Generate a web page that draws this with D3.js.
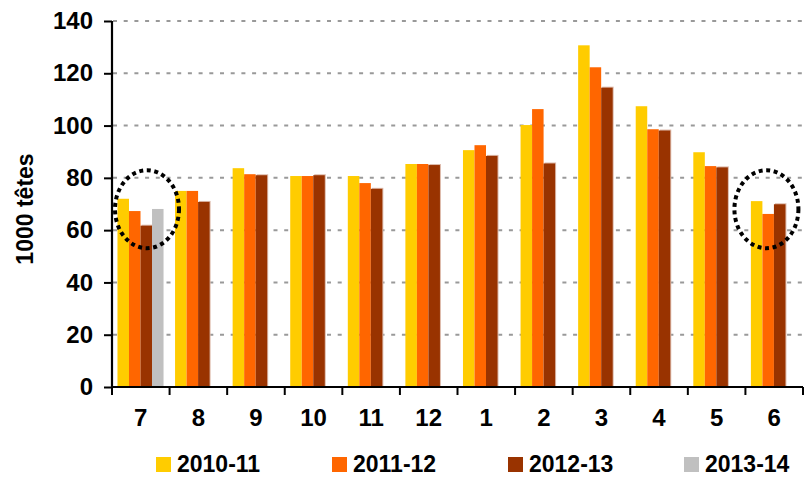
<!DOCTYPE html>
<meta charset="utf-8">
<script src="https://d3js.org/d3.v7.min.js"></script>
<style>
  body { margin: 0; background: #fff; }
  text { font-family: "Liberation Sans", Arial, sans-serif; font-weight: bold; }
</style>
<div id="chart"></div>
<script>
// months (July -> June)
var months = ["7","8","9","10","11","12","1","2","3","4","5","6"];
var seasons = ["2010-11","2011-12","2012-13","2013-14"];
var colors = ["#ffcc00","#ff6600","#993300","#c0c0c0"];

// values in 1000 heads
var v2010 = [72, 75, 83.7, 80.7, 80.7, 85.3, 90.6, 100.2, 130.7, 107.4, 89.8, 71.1];
var v2011 = [67.3, 75, 81.4, 80.7, 78, 85.3, 92.5, 106.3, 122.3, 98.6, 84.5, 66.2];
var v2012 = [61.7, 70.8, 81, 81, 75.8, 84.9, 88.4, 85.5, 114.5, 98.1, 84, 69.9];
var v2013 = [68.1, null, null, null, null, null, null, null, null, null, null, null];
var yTicks = [0, 20, 40, 60, 80, 100, 120, 140];
// months that get a dotted circle
var circled = ["7", "6"];

var allValues = [v2010, v2011, v2012, v2013];

var width = 809, height = 477;
var svg = d3.select("#chart").append("svg")
  .attr("width", width).attr("height", height);

var x = d3.scaleBand().domain(months).range([112, 803]);
var x1 = d3.scaleBand().domain(seasons)
  .range([x.bandwidth() * 0.095, x.bandwidth() * 0.895]);
var y = d3.scaleLinear().domain([0, 140]).range([387, 21]);

// grid lines
svg.append("g").selectAll("line")
  .data(yTicks.filter(function(d){ return d > 0; }))
  .enter().append("line")
    .attr("x1", 113).attr("x2", 803)
    .attr("y1", function(d){ return y(d); })
    .attr("y2", function(d){ return y(d); })
    .attr("stroke", "#999")
    .attr("stroke-width", 2)
    .attr("stroke-dasharray", "4,6.7");

// bars
var data = [];
months.forEach(function(m, i) {
  seasons.forEach(function(s, j) {
    var val = allValues[j][i];
    if (val != null) data.push({month: m, season: s, value: val, color: colors[j]});
  });
});

// faint shadow on the dark bars
svg.append("g").selectAll("rect")
  .data(data.filter(function(d){ return d.season == "2012-13"; }))
  .enter().append("rect")
    .attr("x", function(d){ return x(d.month) + x1(d.season) + 1; })
    .attr("y", function(d){ return y(d.value) - 1; })
    .attr("width", x1.bandwidth())
    .attr("height", function(d){ return y(0) - y(d.value) + 1; })
    .attr("fill", "#dcb8a8");

svg.append("g").selectAll("rect")
  .data(data)
  .enter().append("rect")
    .attr("x", function(d){ return x(d.month) + x1(d.season); })
    .attr("y", function(d){ return y(d.value); })
    .attr("width", x1.bandwidth())
    .attr("height", function(d){ return y(0) - y(d.value); })
    .attr("fill", function(d){ return d.color; });

// y axis
var yAxis = svg.append("g")
  .attr("transform", "translate(112,0)")
  .call(d3.axisLeft(y).tickValues(yTicks).tickSize(8).tickPadding(11));
yAxis.select(".domain").attr("stroke", "#000").attr("stroke-width", 2.2)
  .attr("d", "M0," + y(0) + "V" + y(140));
yAxis.selectAll(".tick line").attr("stroke", "#000").attr("stroke-width", 2);
yAxis.selectAll(".tick text").style("font-size", "24px").attr("fill", "#000");

// x axis
var xAxis = svg.append("g")
  .attr("transform", "translate(0," + y(0) + ")")
  .call(d3.axisBottom(x).tickSize(0).tickPadding(22));
xAxis.select(".domain").attr("stroke", "#000").attr("stroke-width", 2.2)
  .attr("d", "M112,0H803");
xAxis.selectAll(".tick text").style("font-size", "24px").attr("fill", "#000");
// ticks between categories
xAxis.selectAll(".sep")
  .data(months.concat(["end"]))
  .enter().append("line")
    .attr("x1", function(d, i){ return i < months.length ? x(d) : x.range()[1]; })
    .attr("x2", function(d, i){ return i < months.length ? x(d) : x.range()[1]; })
    .attr("y1", 0).attr("y2", 8)
    .attr("stroke", "#000").attr("stroke-width", 2);

// y title
svg.append("text")
  .attr("transform", "translate(33,209) rotate(-90)")
  .attr("text-anchor", "middle")
  .style("font-size", "23px")
  .text("1000 têtes");

// dotted circles
svg.append("g").selectAll("ellipse")
  .data(circled)
  .enter().append("ellipse")
    .attr("cx", function(d){ return d == "7" ? x(d) + 35 : x(d) + 21; })
    .attr("cy", y(68))
    .attr("rx", 32).attr("ry", 39)
    .attr("fill", "none")
    .attr("stroke", "#000")
    .attr("stroke-width", 4)
    .attr("stroke-dasharray", "4,3.6");

// legend
var legend = svg.append("g").selectAll("g")
  .data(seasons)
  .enter().append("g")
    .attr("transform", function(d, i){ return "translate(" + (156 + i * 176) + ",457)"; });
legend.append("rect")
  .attr("width", 15).attr("height", 15)
  .attr("fill", function(d, i){ return colors[i]; });
legend.append("text")
  .attr("x", 21).attr("y", 15)
  .style("font-size", "23px")
  .text(function(d){ return d; });
</script>
